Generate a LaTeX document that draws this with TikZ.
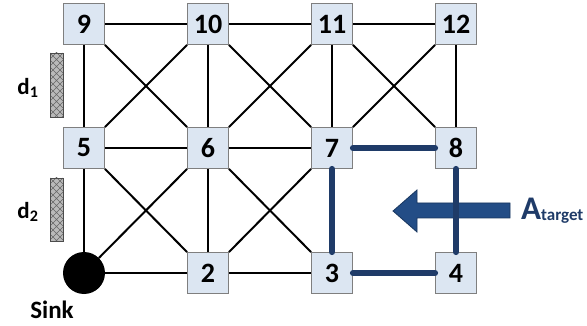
\documentclass[tikz,border=0pt]{standalone}
\usepackage{fontspec}
\setmainfont{Carlito}
\usepackage{tikz}
\definecolor{cellfill}{HTML}{DCE6F2}
\definecolor{cellline}{HTML}{7F7F7F}
\definecolor{pathblue}{HTML}{1F3B68}
\definecolor{arrowblue}{HTML}{234D86}

\begin{document}
\begin{tikzpicture}[x=1pt,y=-1pt,
    every node/.style={font=\bfseries},
    cell/.style={draw=cellline,fill=cellfill,line width=0.8pt,minimum size=41pt,inner sep=0pt,font=\fontsize{28}{28}\bfseries},
    link/.style={line width=2pt,black},
    route/.style={line width=6pt,pathblue,line cap=round},
    hatchline/.style={black!60,line width=0.7pt}]
        \useasboundingbox (0,0) rectangle (587,326);
        % sensor cells
        \node[cell] (n9) at (84,24) {9};
        \node[cell] (n10) at (208,24) {10};
        \node[cell] (n11) at (332,24) {11};
        \node[cell] (n12) at (456,24) {12};
        \node[cell] (n5) at (84,148) {5};
        \node[cell] (n6) at (208,148) {6};
        \node[cell] (n7) at (332,148) {7};
        \node[cell] (n8) at (456,148) {8};
        \node[circle,fill=black,minimum size=42pt,inner sep=0pt] (sink) at (84,273) {};
        \node[cell] (n2) at (208,273) {2};
        \node[cell] (n3) at (332,273) {3};
        \node[cell] (n4) at (456,273) {4};
        \node[font=\fontsize{25}{25}\bfseries] (sinklbl) at (52,310) {Sink};
        % grid links
        \draw[link] (n9) -- (n10);
        \draw[link] (n10) -- (n11);
        \draw[link] (n11) -- (n12);
        \draw[link] (n5) -- (n6);
        \draw[link] (n6) -- (n7);
        \draw[link] (sink) -- (n2);
        \draw[link] (n2) -- (n3);
        \draw[link] (n9) -- (n5);
        \draw[link] (n5) -- (sink);
        \draw[link] (n10) -- (n6);
        \draw[link] (n6) -- (n2);
        \draw[link] (n11) -- (n7);
        \draw[link] (n12) -- (n8);
        % diagonals
        \draw[link] (n9.south east) -- (n6.north west);
        \draw[link] (n10.south west) -- (n5.north east);
        \draw[link] (n10.south east) -- (n7.north west);
        \draw[link] (n11.south west) -- (n6.north east);
        \draw[link] (n11.south east) -- (n8.north west);
        \draw[link] (n12.south west) -- (n7.north east);
        \draw[link] (n5.south east) -- (n2.north west);
        \draw[link] (n6.south west) -- (sink);
        \draw[link] (n6.south east) -- (n3.north west);
        \draw[link] (n7.south west) -- (n2.north east);
        % obstacles
        \foreach \ytop/\ybot in {53/117,178/241} {
          \fill[gray!55] (50,\ytop) rectangle (63,\ybot);
          \begin{scope}
            \clip (50,\ytop) rectangle (63,\ybot);
            \foreach \k in {-14,-7,...,70}
              \draw[hatchline] (50,\ytop+\k) -- (63,\ytop+\k+13)
                               (50,\ytop+\k+13) -- (63,\ytop+\k);
          \end{scope}
          \draw[black!70,line width=0.8pt] (50,\ytop) rectangle (63,\ybot);
        }
        \node[font=\fontsize{23}{23}\bfseries] (d1) at (28,88) {d\textsubscript{1}};
        \node[font=\fontsize{23}{23}\bfseries] (d2) at (28,212) {d\textsubscript{2}};
        % attack
        \draw[arrowblue!70!black,fill=arrowblue,line width=0.8pt]
          (510,203) -- (417,203) -- (417,190) -- (393,211) -- (417,232) -- (417,218) -- (510,218) -- cycle;
        \draw[route] (n7.east) -- (n8.west);
        \draw[route] (n7.south) -- (n3.north);
        \draw[route] (n3.east) -- (n4.west);
        \draw[route] (n8.south) -- (n4.north);
        \node[pathblue,anchor=west,inner sep=0pt] (atk) at (521,211) {\fontsize{33}{33}\selectfont A\raisebox{-1pt}{\fontsize{17}{17}\selectfont target}};
      \end{tikzpicture}
\end{document}
